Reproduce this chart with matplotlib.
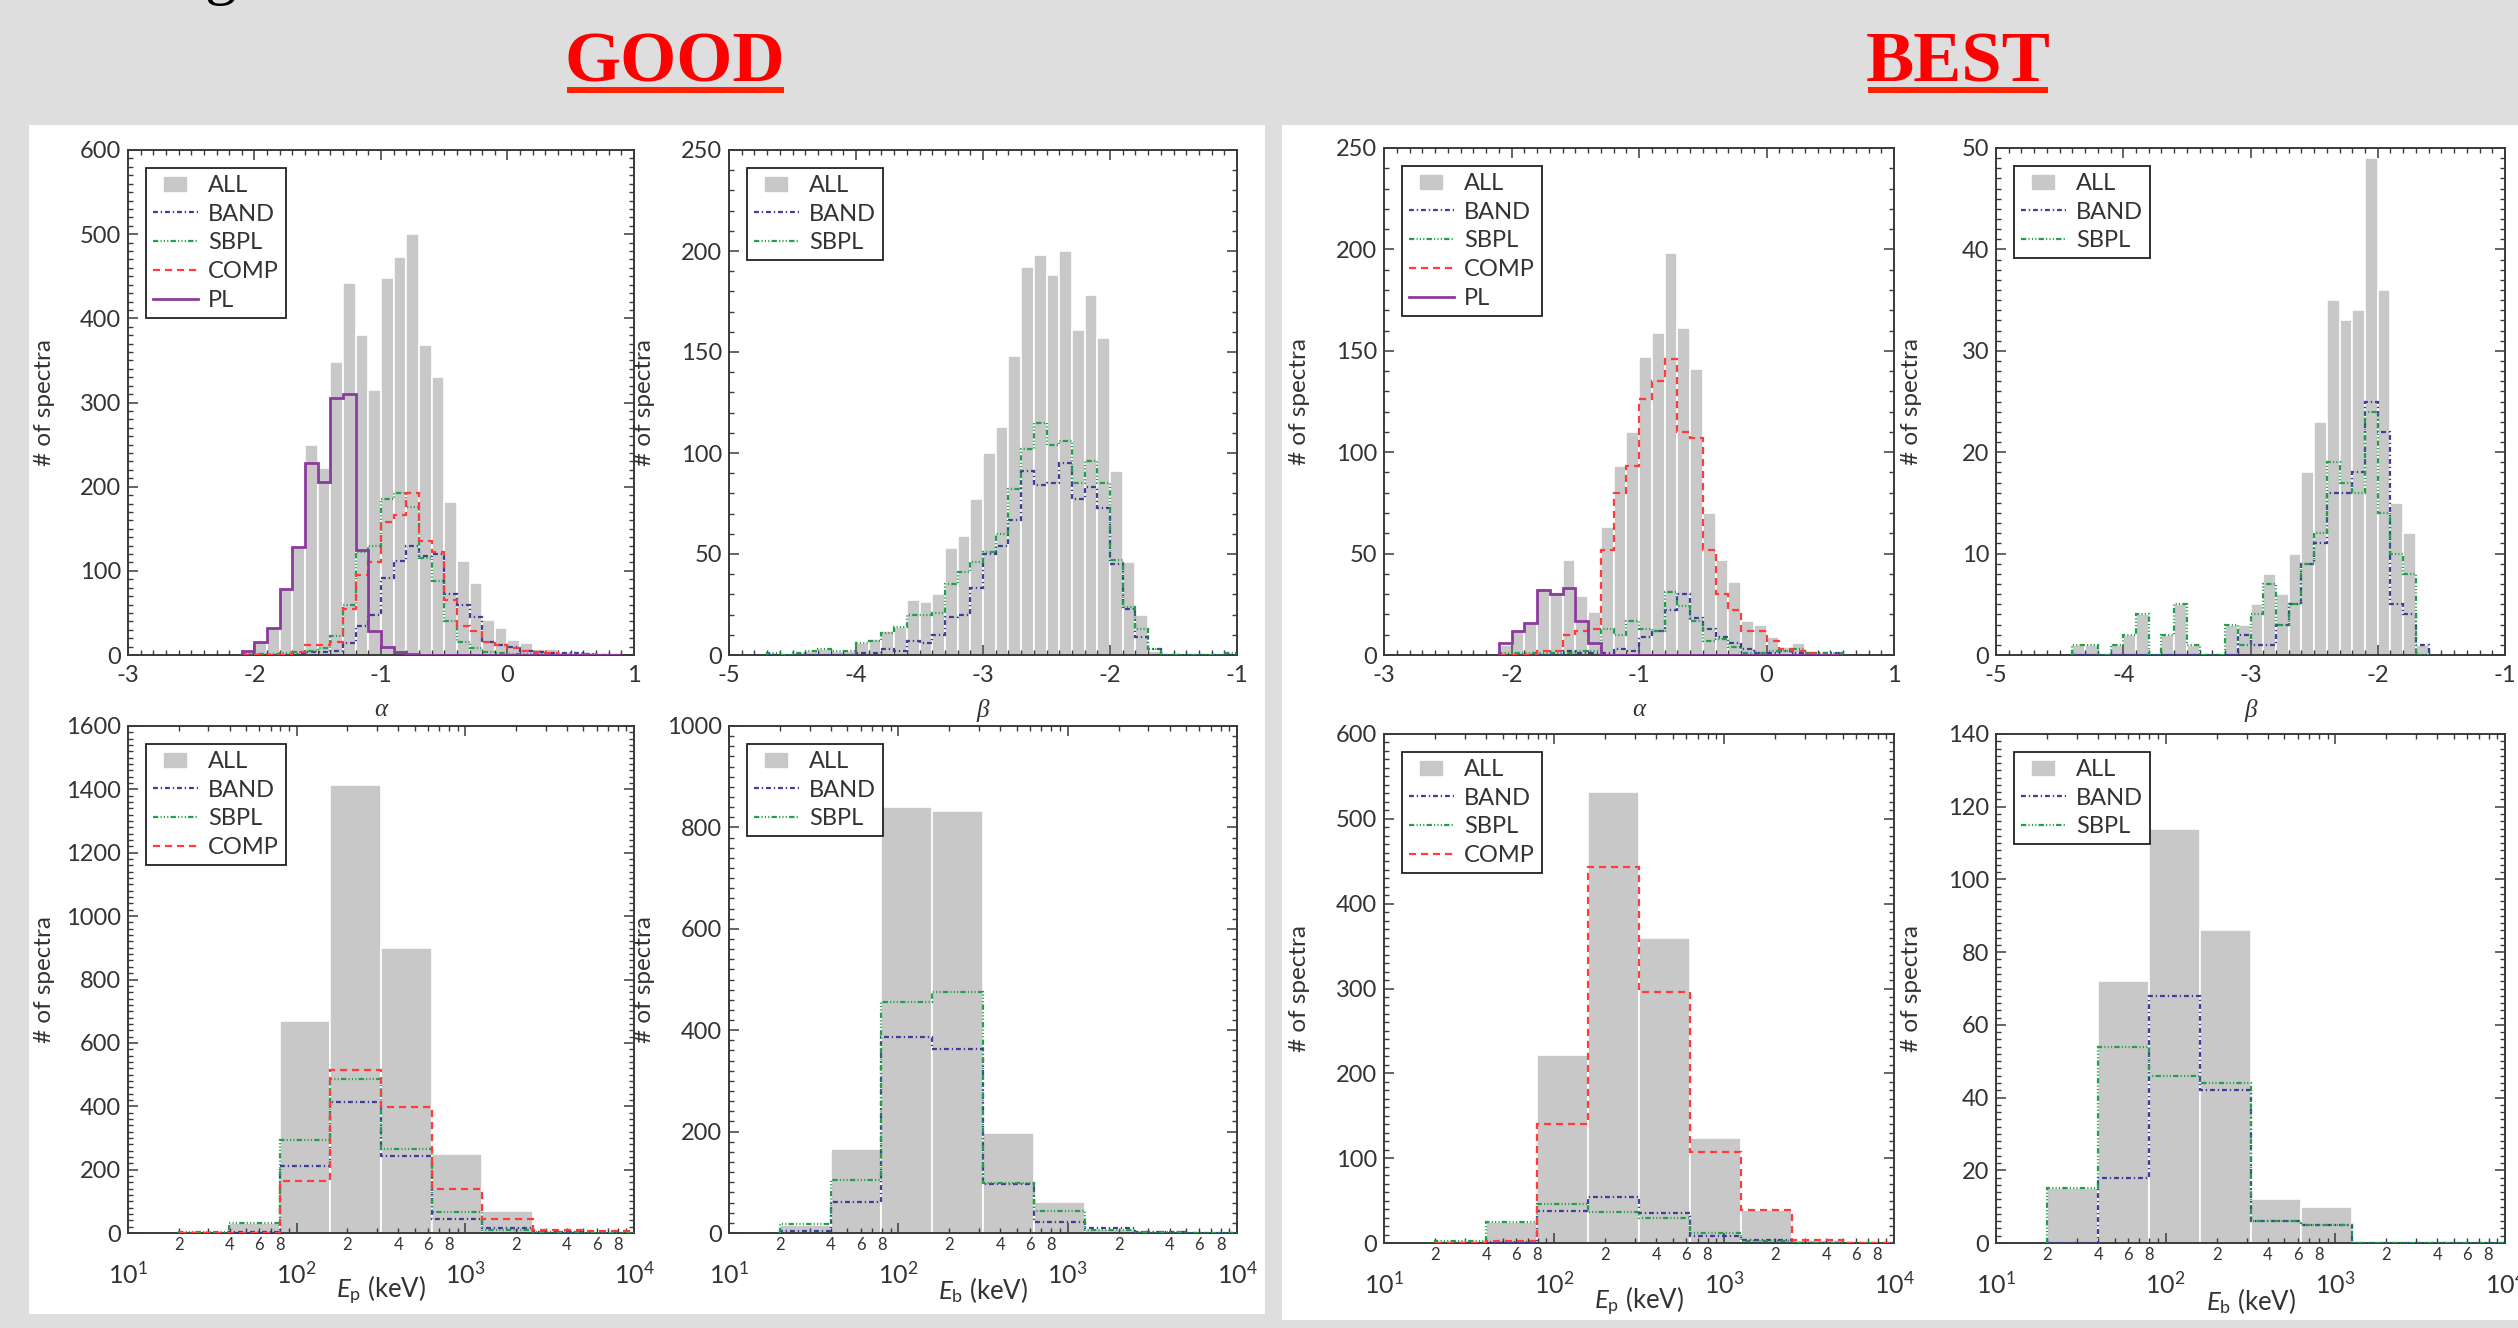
import numpy as np
import matplotlib
matplotlib.use("Agg")
import matplotlib.pyplot as plt
from matplotlib.patches import Rectangle
from matplotlib.lines import Line2D
from matplotlib.ticker import MultipleLocator, FixedLocator, FuncFormatter, LogLocator, LogFormatterMathtext

##########################
### DATA ###

# top row: alpha / beta histograms, bins of 0.1
GOOD_A_START = -2.1
GOOD_A_ALL  = [5, 15, 32, 78, 128, 250, 222, 348, 442, 380, 315, 448, 473, 500, 368, 330, 182, 112, 85, 42, 32, 18, 14, 7, 7, 3, 2, 1, 0, 0]
GOOD_A_BAND = [0, 0, 0, 0, 1, 3, 3, 5, 14, 35, 48, 92, 112, 130, 118, 120, 72, 60, 45, 15, 12, 10, 5, 3, 2, 2, 2, 1, 0, 0]
GOOD_A_SBPL = [1, 1, 1, 2, 3, 5, 8, 22, 60, 122, 130, 185, 192, 176, 115, 88, 40, 15, 8, 3, 2, 1, 1, 1, 0, 0, 1, 1, 0, 0]
GOOD_A_COMP = [0, 0, 0, 0, 3, 12, 12, 15, 55, 95, 110, 158, 166, 192, 135, 122, 65, 35, 28, 15, 12, 8, 5, 3, 2, 0, 0, 0, 0, 0]
GOOD_A_PL   = [5, 15, 32, 78, 128, 228, 205, 305, 310, 125, 28, 10, 3, 1, 0, 0, 0, 0, 0, 0, 0, 0, 0, 0, 0, 0, 0, 0, 0, 0]

GOOD_B_START = -4.7
GOOD_B_ALL  = [1, 0, 1, 2, 3, 2, 2, 6, 8, 12, 14, 27, 26, 30, 53, 59, 77, 100, 113, 148, 192, 198, 188, 200, 161, 178, 157, 91, 46, 20, 2, 0, 0, 0, 0, 0, 1]
GOOD_B_BAND = [0, 0, 0, 0, 0, 0, 0, 1, 1, 3, 2, 7, 6, 10, 19, 20, 33, 50, 54, 67, 91, 84, 85, 95, 77, 83, 73, 45, 23, 9, 3, 0, 0, 0, 0, 0, 0]
GOOD_B_SBPL = [1, 0, 1, 2, 3, 2, 2, 6, 7, 11, 14, 20, 20, 21, 35, 41, 46, 51, 60, 82, 102, 115, 104, 106, 85, 96, 85, 47, 24, 13, 3, 0, 0, 0, 0, 0, 1]

BEST_A_START = -2.1
BEST_A_ALL  = [5, 12, 16, 33, 31, 47, 29, 21, 63, 93, 110, 147, 159, 198, 161, 141, 70, 47, 36, 17, 15, 9, 4, 6, 1, 0, 0]
BEST_A_BAND = [0, 0, 0, 0, 0, 2, 1, 1, 1, 3, 2, 9, 12, 22, 30, 18, 13, 9, 6, 3, 1, 1, 2, 1, 1, 1, 1]
BEST_A_SBPL = [1, 1, 1, 1, 1, 1, 2, 2, 13, 10, 17, 13, 12, 31, 24, 17, 7, 8, 4, 1, 1, 2, 2, 3, 1, 1, 1]
BEST_A_COMP = [0, 0, 0, 2, 2, 10, 12, 13, 52, 80, 93, 126, 135, 146, 110, 107, 52, 30, 22, 12, 12, 7, 3, 2, 1, 0, 0]
BEST_A_PL   = [6, 12, 16, 32, 30, 33, 17, 6, 0, 0, 0, 0, 0, 0, 0, 0, 0, 0, 0, 0, 0, 0, 0, 0, 0, 0, 0]

BEST_B_START = -4.4
BEST_B_ALL  = [1, 1, 0, 1, 2, 4, 0, 2, 5, 1, 0, 0, 3, 3, 5, 8, 6, 10, 18, 23, 35, 33, 34, 49, 36, 15, 12, 1]
BEST_B_BAND = [0, 0, 0, 0, 0, 0, 0, 0, 0, 0, 0, 0, 0, 2, 1, 1, 3, 5, 9, 11, 16, 16, 18, 25, 22, 5, 4, 1]
BEST_B_SBPL = [1, 1, 0, 1, 2, 4, 0, 2, 5, 1, 0, 0, 3, 1, 4, 7, 3, 5, 9, 12, 19, 17, 16, 24, 14, 10, 8, 0]

# bottom row: Ep / Eb histograms, log10 bin edges
E_EXP = [1.3, 1.6, 1.9, 2.2, 2.5, 2.8, 3.1, 3.4, 3.7, 4.0]
GOOD_EP_ALL  = [2, 30, 670, 1415, 900, 250, 70, 3, 0]
GOOD_EP_BAND = [1, 3, 212, 413, 242, 45, 15, 2, 0]
GOOD_EP_SBPL = [2, 30, 295, 487, 265, 65, 10, 2, 0]
GOOD_EP_COMP = [0, 0, 165, 515, 397, 140, 45, 8, 6]

GOOD_EB_ALL  = [15, 165, 840, 833, 197, 62, 8, 2, 0]
GOOD_EB_BAND = [3, 62, 387, 362, 97, 22, 10, 2, 0]
GOOD_EB_SBPL = [18, 105, 455, 475, 98, 43, 5, 2, 0]

BEST_EP_ALL  = [2, 25, 222, 532, 360, 124, 39, 4, 0]
BEST_EP_BAND = [0, 1, 38, 54, 35, 8, 3, 0, 0]
BEST_EP_SBPL = [2, 25, 46, 36, 29, 12, 2, 0, 0]
BEST_EP_COMP = [0, 2, 140, 443, 296, 107, 39, 4, 0]

BEST_EB_ALL  = [15, 72, 114, 86, 12, 10, 0, 0, 0]
BEST_EB_BAND = [0, 18, 68, 42, 6, 5, 0, 0, 0]
BEST_EB_SBPL = [15, 54, 46, 44, 6, 5, 0, 0, 0]

##########################
### STYLE ###
W, H = 2518, 1328
BG = '#dedede'
GRAY = '#c8c8c8'
AX_COL = '#3a3a3a'
TXT_COL = '#333333'
STYLES = {
    'BAND': dict(color='#3d3d9c', linestyle=(0, (2.2, 1.3, 0.6, 1.3)), linewidth=1.6),
    'SBPL': dict(color='#21a04c', linestyle=(0, (2.4, 1.0, 0.5, 1.0, 0.5, 1.0, 0.5, 1.0)), linewidth=1.6),
    'COMP': dict(color='#ff3b3b', linestyle=(0, (3.2, 2.2)), linewidth=1.6),
    'PL':   dict(color='#8b3b9b', linestyle='-', linewidth=2.0),
}
ALL_MARKER = [(-1, -0.6), (1, -0.6), (1, 0.6), (-1, 0.6), (-1, -0.6)]

plt.rcParams['font.family'] = ['Lato', 'DejaVu Sans']
plt.rcParams['axes.unicode_minus'] = False
plt.rcParams['mathtext.fontset'] = 'custom'
plt.rcParams['mathtext.rm'] = 'Lato'
plt.rcParams['mathtext.it'] = 'Lato:italic'


def px_rect(x0, y0, x1, y1):
    return [x0 / W, 1 - y1 / H, (x1 - x0) / W, (y1 - y0) / H]


def lin_edges(start, n):
    return np.round(start + 0.1 * np.arange(n + 1), 2)


def minor_log_label(v, pos):
    m = v / 10 ** np.floor(np.log10(v) + 1e-9)
    m = int(round(m))
    return str(m) if m in (2, 4, 6, 8) else ''


def panel(fig, rect, edges, all_vals, series, xlim, ylim, ymaj, ymin, log=False, xlabel=''):
    ax = fig.add_axes(px_rect(*rect))
    edges = np.asarray(edges, dtype=float)
    ax.bar(edges[:-1], all_vals, width=np.diff(edges), align='edge',
           color=GRAY, edgecolor='white', linewidth=1.2, zorder=1)
    for name, vals in series:
        ax.stairs(vals, edges, baseline=0, zorder=3, **STYLES[name])

    ax.set_ylim(0, ylim)
    ax.yaxis.set_major_locator(MultipleLocator(ymaj))
    ax.yaxis.set_minor_locator(MultipleLocator(ymin))
    if log:
        ax.set_xscale('log')
        ax.xaxis.set_major_locator(LogLocator(base=10, numticks=10))
        ax.xaxis.set_major_formatter(LogFormatterMathtext())
        ax.xaxis.set_minor_locator(FixedLocator([m * 10.0 ** k for k in (1, 2, 3) for m in range(2, 10)]))
        ax.xaxis.set_minor_formatter(FuncFormatter(minor_log_label))
        ax.tick_params(axis='x', which='major', labelsize=18, pad=20)
        ax.tick_params(axis='x', which='minor', labelsize=12, pad=3)
        ax.set_xlabel(xlabel, fontsize=18.5, color=TXT_COL)
        ax.xaxis.set_label_coords(0.5, -0.113)
    else:
        ax.xaxis.set_major_locator(MultipleLocator(1))
        ax.xaxis.set_minor_locator(MultipleLocator(0.1))
        ax.tick_params(axis='x', which='major', labelsize=17, pad=7)
        ax.set_xlabel(xlabel, fontsize=18, color=TXT_COL, family='Liberation Serif', style='italic')
        ax.xaxis.set_label_coords(0.5, -0.109)
    ax.set_xlim(*xlim)
    ax.xaxis.label.set_va('center')

    ax.tick_params(which='both', direction='in', top=True, right=True, color=AX_COL, labelcolor=TXT_COL)
    ax.tick_params(which='major', length=7.5, width=1.1)
    ax.tick_params(which='minor', length=3.8, width=1.0)
    ax.tick_params(axis='y', labelsize=17, pad=5)
    for s in ax.spines.values():
        s.set_color(AX_COL)
        s.set_linewidth(1.4)
    ax.set_ylabel('# of spectra', fontsize=17.5, color=TXT_COL)
    ax.yaxis.set_label_coords(-0.145, 0.5)

    handles = [Line2D([], [], linestyle='none', marker=ALL_MARKER, markersize=16,
                      markerfacecolor=GRAY, markeredgecolor=GRAY)]
    labels = ['ALL']
    for name, _ in series:
        handles.append(Line2D([], [], **STYLES[name]))
        labels.append(name)
    leg = ax.legend(handles, labels, loc='upper left', fontsize=17, frameon=True, fancybox=False,
                    framealpha=1, edgecolor='#222222', handlelength=1.9, handletextpad=0.45,
                    borderpad=0.3, labelspacing=0.33, borderaxespad=0.75)
    leg.get_frame().set_linewidth(1.3)
    for t in leg.get_texts():
        t.set_color(TXT_COL)
    return ax


if __name__ == "__main__":
    fig = plt.figure(figsize=(W / 100, H / 100), dpi=100, facecolor=BG)

    # white slide panels, kept under the axes
    for x0, y0, x1, y1 in [(29, 125, 1265, 1314), (1282, 125, 2518, 1320)]:
        fig.patches.append(Rectangle((x0 / W, 1 - y1 / H), (x1 - x0) / W, (y1 - y0) / H,
                                     transform=fig.transFigure, facecolor='white', edgecolor='none', zorder=-5))

    # headers
    for label, xc, x0, x1 in [('GOOD', 675, 567, 784), ('BEST', 1958, 1868, 2048)]:
        fig.text(xc / W, 1 - 82 / H, label, ha='center', va='baseline', color='#ff0000',
                 family='Liberation Serif', weight='bold', fontsize=52)
        fig.patches.append(Rectangle((x0 / W, 1 - 93 / H), (x1 - x0) / W, 6 / H,
                                     transform=fig.transFigure, facecolor='#ff2200', edgecolor='none'))
    fig.text(220 / W, 1 + 8 / H, 'g', ha='center', va='baseline', color='black',
             family='Liberation Serif', fontsize=46)

    e_edges = 10.0 ** np.array(E_EXP)
    e_lim = (10, 1e4)

    panel(fig, (128, 150, 634, 655), lin_edges(GOOD_A_START, len(GOOD_A_ALL)), GOOD_A_ALL,
          [('BAND', GOOD_A_BAND), ('SBPL', GOOD_A_SBPL), ('COMP', GOOD_A_COMP), ('PL', GOOD_A_PL)],
          (-3, 1), 600, 100, 10, xlabel='α')
    panel(fig, (729, 150, 1237, 655), lin_edges(GOOD_B_START, len(GOOD_B_ALL)), GOOD_B_ALL,
          [('BAND', GOOD_B_BAND), ('SBPL', GOOD_B_SBPL)],
          (-5, -1), 250, 50, 10, xlabel='β')
    panel(fig, (1384, 148, 1894, 655), lin_edges(BEST_A_START, len(BEST_A_ALL)), BEST_A_ALL,
          [('BAND', BEST_A_BAND), ('SBPL', BEST_A_SBPL), ('COMP', BEST_A_COMP), ('PL', BEST_A_PL)],
          (-3, 1), 250, 50, 10, xlabel='α')
    panel(fig, (1996, 148, 2505, 655), lin_edges(BEST_B_START, len(BEST_B_ALL)), BEST_B_ALL,
          [('BAND', BEST_B_BAND), ('SBPL', BEST_B_SBPL)],
          (-5, -1), 50, 10, 1, xlabel='β')

    panel(fig, (128, 726, 634, 1233), e_edges, GOOD_EP_ALL,
          [('BAND', GOOD_EP_BAND), ('SBPL', GOOD_EP_SBPL), ('COMP', GOOD_EP_COMP)],
          e_lim, 1600, 200, 20, log=True, xlabel=r'$E_{\rm p}$ (keV)')
    panel(fig, (729, 726, 1237, 1233), e_edges, GOOD_EB_ALL,
          [('BAND', GOOD_EB_BAND), ('SBPL', GOOD_EB_SBPL)],
          e_lim, 1000, 200, 20, log=True, xlabel=r'$E_{\rm b}$ (keV)')
    panel(fig, (1384, 734, 1894, 1243), e_edges, BEST_EP_ALL,
          [('BAND', BEST_EP_BAND), ('SBPL', BEST_EP_SBPL), ('COMP', BEST_EP_COMP)],
          e_lim, 600, 100, 10, log=True, xlabel=r'$E_{\rm p}$ (keV)')
    panel(fig, (1996, 734, 2505, 1243), e_edges, BEST_EB_ALL,
          [('BAND', BEST_EB_BAND), ('SBPL', BEST_EB_SBPL)],
          e_lim, 140, 20, 2, log=True, xlabel=r'$E_{\rm b}$ (keV)')

    fig.savefig('out.png', dpi=100, facecolor=BG)
